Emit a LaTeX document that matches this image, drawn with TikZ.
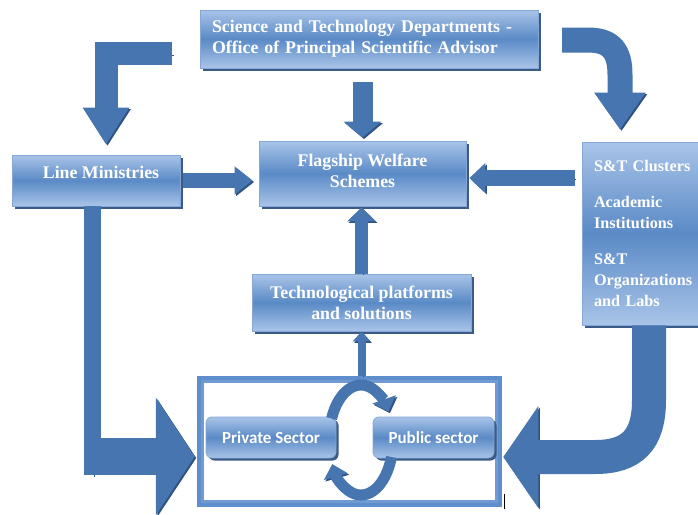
\documentclass[tikz,border=0pt]{standalone}
\usepackage{fontspec}
\setmainfont{Liberation Serif}
\newfontfamily\sectorfont{Carlito}
\usetikzlibrary{arrows.meta,shadows,calc}

\definecolor{boxlight}{HTML}{A9C4E8}
\definecolor{boxmid}{HTML}{5A8AC6}
\definecolor{boxedge}{HTML}{86A8D8}
\definecolor{boxshadow}{HTML}{3B5A86}
\definecolor{arrowblue}{HTML}{4675B0}
\definecolor{arrowshade}{HTML}{2F5282}
\definecolor{frameblue}{HTML}{5E8ECB}
\definecolor{framelight}{HTML}{6F9BD2}

\tikzset{
  infobox/.style={draw=boxedge, line width=0.8pt,
    top color=boxlight, bottom color=boxlight, middle color=boxmid,
    drop shadow={shadow xshift=2.5pt, shadow yshift=-2.5pt, fill=boxshadow, opacity=1},
    text=white, font=\bfseries\fontsize{17.8}{21}\selectfont, inner sep=0pt},
  sectorbox/.style={infobox, rounded corners=6pt,
    font=\sectorfont\bfseries\fontsize{17}{20}\selectfont},
  blockarrow/.style={draw=arrowblue, line join=miter,
    preaction={draw=arrowshade, transform canvas={shift={(1.5pt,-1.5pt)}}}},
}

\begin{document}
\begin{tikzpicture}[x=1pt, y=-1pt]
  \fill[white] (0,0) rectangle (698,514);
  \useasboundingbox (0,0) rectangle (698,514);

  % boxes
  \node[infobox, minimum width=338pt, minimum height=58pt, align=left, text width=314pt]
    (sci) at (369,39) {Science and Technology Departments -\\Office of Principal Scientific Advisor};
  \node[infobox, minimum width=168pt, minimum height=51pt]
    (lm) at (96,180.5) {\hspace*{10pt}\raisebox{17pt}{Line Ministries}};
  \node[infobox, minimum width=207pt, minimum height=65pt]
    (flag) at (362.5,173.5) {\raisebox{18pt}{\begin{tabular}{@{}c@{}}Flagship Welfare\\Schemes\end{tabular}}};
  \node[infobox, minimum width=219pt, minimum height=57pt, align=center]
    (tech) at (361.5,302.5) {Technological platforms\\and solutions};
  \node[infobox, minimum width=130pt, minimum height=183pt, align=left, text width=106pt,
        font=\bfseries\fontsize{16.2}{21}\selectfont]
    (st) at (647,233.5) {\mbox{S\&T Clusters}\\[15pt]Academic\\Institutions\\[15pt]S\&T\\\mbox{Organizations}\\\mbox{and Labs}};

  % double frame around the two sectors
  \node[draw=frameblue, line width=5pt, minimum width=300.5pt, minimum height=126.5pt, inner sep=0pt]
    (frame) at (349.5,441.5) {};
  \draw[framelight, line width=2.2pt]
    ([shift={(5.8pt,-5.8pt)}]frame.north west) rectangle ([shift={(-5.8pt,5.8pt)}]frame.south east);
  \draw[black, line width=1.3pt] ([shift={(2.5pt,-2pt)}]frame.south east) -- ++(0,-15);

  \node[sectorbox, minimum width=130pt, minimum height=41pt] (priv) at (271,437.5) {Private Sector};
  \node[sectorbox, minimum width=121pt, minimum height=41pt] (pub) at (433.5,437.5) {Public sector};

  % block arrows
  \draw[blockarrow, line width=20pt, -{Triangle[length=16pt,width=37pt]}, shorten <=14pt, shorten >=3pt]
    (flag.north |- sci.south) -- (flag.north);
  \draw[blockarrow, line width=15pt, -{Triangle[length=18pt,width=27pt]}, shorten <=3pt, shorten >=6pt]
    (lm.east) -- (flag.west |- lm.east);
  \draw[blockarrow, line width=16pt, -{Triangle[length=16pt,width=29pt]}, shorten <=7pt, shorten >=3pt]
    ($(st.west |- flag.east)+(0,4.5)$) -- ($(flag.east)+(0,4.5)$);
  \draw[blockarrow, line width=13pt, -{Triangle[length=14pt,width=28pt]}, shorten >=1pt]
    (tech.north) -- (tech.north |- flag.south);
  \draw[blockarrow, line width=8pt, -{Triangle[length=10pt,width=17pt]}]
    (tech.south |- frame.north) -- (tech.south);

  % elbow arrow into Line Ministries
  \coordinate (elbowstart) at (172,53.5);
  \draw[blockarrow, line width=23pt, -{Triangle[length=37pt,width=44pt]}]
    (elbowstart) -| ([xshift=10pt,yshift=10pt]lm.north);

  % curved arrow into the S&T box
  \coordinate (curvestart) at (562,40);
  \draw[blockarrow, line width=25pt, -{Triangle[length=37pt,width=49pt]}]
    (curvestart) -- (588,40) .. controls (612,40) and (620,52) .. (620,75)
    -- ([xshift=-27pt,yshift=12pt]st.north);

  % large arrow from Line Ministries into the frame
  \coordinate (leftbend) at (84,456.5);
  \draw[blockarrow, line width=17pt] ([xshift=-3.5pt]lm.south) -- ++(0,269);
  \draw[blockarrow, line width=37pt, -{Triangle[length=39pt,width=116pt]}, shorten >=2pt]
    (leftbend) -- ([yshift=-15pt]frame.west);

  % large curved arrow from the S&T box into the frame
  \draw[blockarrow, line width=34pt, -{Triangle[length=35pt,width=100pt]}, shorten >=1pt]
    ([xshift=2pt]st.south) -- (649,400) .. controls (649,440) and (632,457) .. (595,457)
    -- ([yshift=-15.5pt]frame.east);

  % cycle between the two sectors
  \coordinate (cyc) at (361,440);
  \draw[blockarrow, line width=11pt, -{Triangle[length=13pt,width=24pt]}]
    ($(cyc)+(203:32 and 55)$) arc[start angle=203, end angle=329, x radius=32, y radius=55];
  \draw[blockarrow, line width=11pt, -{Triangle[length=13pt,width=24pt]}]
    ($(cyc)+(18:32 and 55)$) arc[start angle=18, end angle=154, x radius=32, y radius=55];
\end{tikzpicture}
\end{document}
